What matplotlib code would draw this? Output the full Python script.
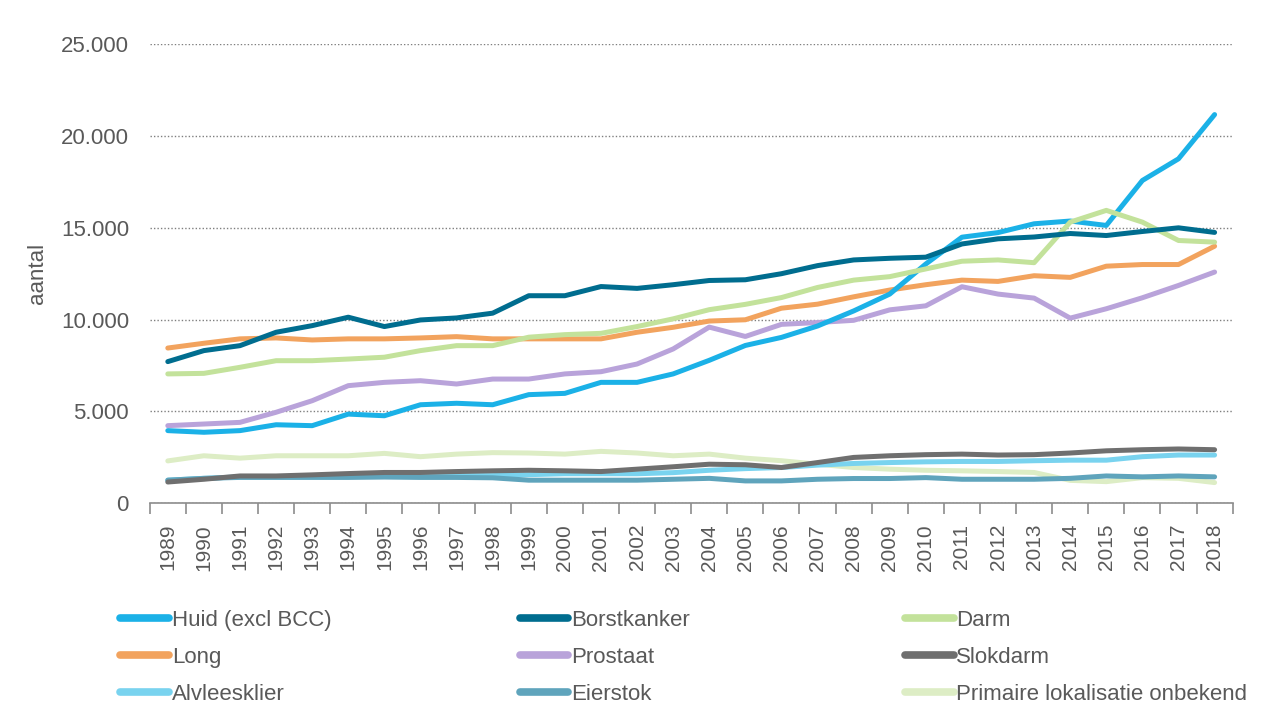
import matplotlib
matplotlib.use("Agg")
import matplotlib.pyplot as plt
import matplotlib.ticker as ticker
from matplotlib.lines import Line2D

plt.rcParams["font.family"] = ["Liberation Sans", "DejaVu Sans"]

# Years on the x-axis
years = list(range(1989, 2019))

# Series values (aantal)
huid = [3950, 3860, 3950, 4270, 4220, 4850, 4760, 5360, 5440, 5360,
        5910, 5980, 6580, 6580, 7040, 7780, 8590, 9030, 9650, 10470,
        11390, 13030, 14490, 14740, 15220, 15370, 15130, 17580, 18760, 21170]
borst = [7710, 8310, 8580, 9310, 9670, 10130, 9620, 9980, 10090, 10350,
         11300, 11300, 11800, 11700, 11900, 12130, 12170, 12500, 12940, 13250,
         13340, 13400, 14120, 14400, 14500, 14690, 14580, 14800, 15000, 14750]
darm = [7040, 7070, 7400, 7760, 7760, 7850, 7950, 8310, 8580, 8580,
        9040, 9180, 9250, 9620, 10040, 10540, 10830, 11200, 11750, 12150,
        12340, 12760, 13180, 13250, 13100, 15310, 15950, 15310, 14310, 14220]
long_ = [8450, 8710, 8950, 9000, 8890, 8950, 8950, 9000, 9070, 8950,
         8950, 8950, 8950, 9310, 9580, 9920, 9990, 10620, 10840, 11240,
         11610, 11900, 12150, 12080, 12390, 12300, 12910, 13000, 13000, 14000]
prostaat = [4220, 4310, 4400, 4950, 5580, 6400, 6580, 6670, 6490, 6760,
            6760, 7040, 7160, 7580, 8400, 9590, 9080, 9740, 9840, 9960,
            10530, 10750, 11790, 11390, 11170, 10080, 10590, 11190, 11860, 12590]
slokdarm = [1150, 1300, 1480, 1480, 1540, 1610, 1670, 1670, 1720, 1760,
            1790, 1760, 1720, 1850, 1980, 2120, 2090, 1940, 2210, 2490,
            2580, 2640, 2670, 2620, 2640, 2730, 2850, 2910, 2950, 2910]
alvlees = [1250, 1350, 1430, 1430, 1450, 1450, 1480, 1480, 1500, 1500,
           1550, 1600, 1600, 1600, 1660, 1790, 1880, 1940, 2070, 2160,
           2210, 2250, 2270, 2270, 2310, 2340, 2340, 2530, 2620, 2620]
eierstok = [1250, 1350, 1400, 1400, 1400, 1400, 1420, 1400, 1400, 1380,
            1250, 1250, 1250, 1250, 1300, 1350, 1210, 1210, 1300, 1340,
            1340, 1390, 1300, 1300, 1300, 1350, 1480, 1430, 1480, 1430]
primaire = [2300, 2580, 2450, 2580, 2580, 2580, 2710, 2530, 2670, 2750,
            2730, 2670, 2820, 2730, 2580, 2670, 2450, 2310, 2120, 1940,
            1850, 1790, 1760, 1720, 1670, 1240, 1170, 1390, 1350, 1120]

labels = ["Huid (excl BCC)", "Borstkanker", "Darm", "Long", "Prostaat",
          "Slokdarm", "Alvleesklier", "Eierstok", "Primaire lokalisatie onbekend"]
colors = ["#1BB1E7", "#006D8F", "#C3E29B", "#F2A35E", "#B9A3DA",
          "#6F6F6F", "#79D3EF", "#5FA4BC", "#DDEDC5"]
series = [huid, borst, darm, long_, prostaat, slokdarm, alvlees, eierstok, primaire]

text_color = "#595959"

fig = plt.figure(figsize=(12.8, 7.26), dpi=100)
ax = fig.add_axes([0.117, 0.307, 0.846, 0.632])

x = list(range(len(years)))
# draw lower series first so the big ones are on top
draw_order = [8, 6, 7, 5, 4, 3, 0, 2, 1]
for i in draw_order:
    ax.plot(x, series[i], color=colors[i], linewidth=3.6,
            solid_capstyle="round", solid_joinstyle="round", label=labels[i])

ax.set_xlim(-0.5, len(years) - 0.5)
ax.set_ylim(0, 25000)

# y axis: dotted grid, dot thousands separator
ax.set_yticks([0, 5000, 10000, 15000, 20000, 25000])
ax.yaxis.set_major_formatter(ticker.FuncFormatter(
    lambda v, p: "0" if v == 0 else f"{int(v):,}".replace(",", ".")))
ax.grid(True, axis="y", linestyle=(0, (1, 1.5)), linewidth=1.0, color="#7F7F7F")
ax.tick_params(axis="y", length=0, pad=15, labelsize=16, labelcolor=text_color)
ax.set_ylabel("aantal", fontsize=16, color=text_color, labelpad=9)

# x axis: labels at centres, tick marks between categories
ax.set_xticks(x)
ax.set_xticklabels([str(y) for y in years], rotation=90)
ax.set_xticks([i - 0.5 for i in range(len(years) + 1)], minor=True)
ax.tick_params(axis="x", which="major", length=0, pad=15, labelsize=15,
               labelcolor=text_color)
ax.tick_params(axis="x", which="minor", length=8, width=1.2, color="#8C8C8C")

for side in ["left", "right", "top"]:
    ax.spines[side].set_visible(False)
ax.spines["bottom"].set_color("#8C8C8C")
ax.spines["bottom"].set_linewidth(1.2)

# Legend: three columns placed by hand, row order as in the original
columns = [[0, 3, 6], [1, 4, 7], [2, 5, 8]]
col_x = [0.087, 0.399, 0.700]
for col, cx in zip(columns, col_x):
    handles = [Line2D([], [], color=colors[i], linewidth=5.5, solid_capstyle="round")
               for i in col]
    leg = fig.legend(handles, [labels[i] for i in col], loc="upper left",
                     bbox_to_anchor=(cx, 0.172), frameon=False, fontsize=16,
                     handlelength=2.2, handletextpad=0.12, labelspacing=0.72,
                     borderaxespad=0)
    for t in leg.get_texts():
        t.set_color(text_color)

fig.savefig("out.png", dpi=100)
